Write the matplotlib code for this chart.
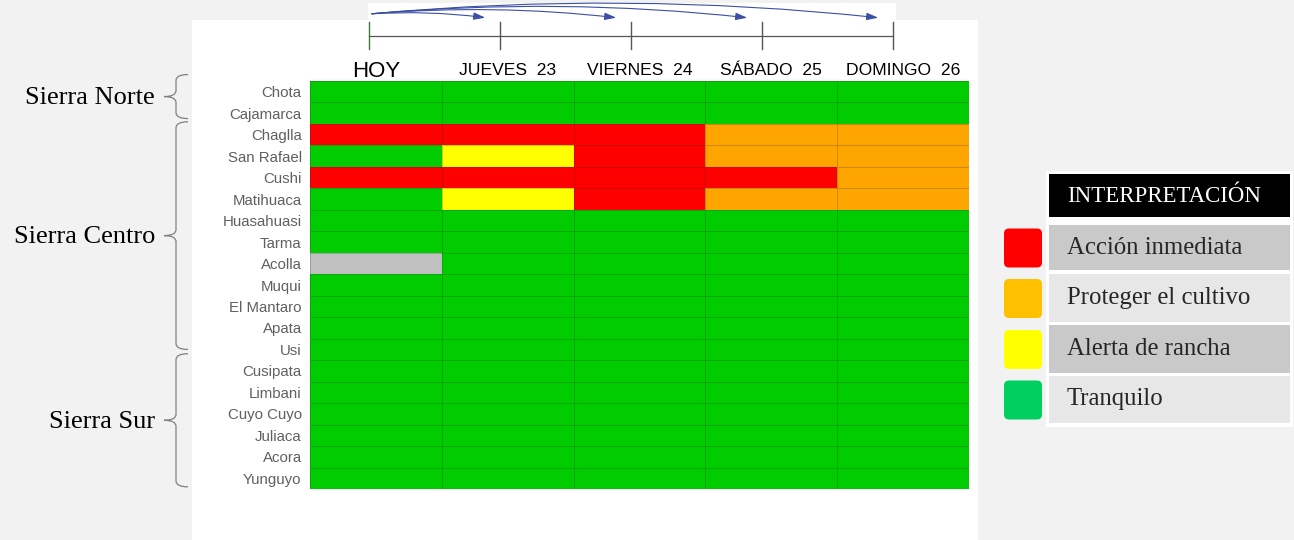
import numpy as np
import matplotlib
matplotlib.use("Agg")
import matplotlib.pyplot as plt
import matplotlib.transforms as mtrans
from matplotlib.colors import ListedColormap, BoundaryNorm
from matplotlib.patches import Rectangle, FancyBboxPatch, FancyArrowPatch, PathPatch
from matplotlib.path import Path

# datos
localidades = ['Chota', 'Cajamarca', 'Chaglla', 'San Rafael', 'Cushi', 'Matihuaca',
               'Huasahuasi', 'Tarma', 'Acolla', 'Muqui', 'El Mantaro', 'Apata', 'Usi',
               'Cusipata', 'Limbani', 'Cuyo Cuyo', 'Juliaca', 'Acora', 'Yunguyo']
dias = ['HOY', 'JUEVES  23', 'VIERNES  24', 'SÁBADO  25', 'DOMINGO  26']

# -1 sin dato, 0 tranquilo, 1 alerta de rancha, 2 proteger, 3 accion inmediata
hoy     = [0, 0, 3, 0, 3, 0, 0, 0, -1, 0, 0, 0, 0, 0, 0, 0, 0, 0, 0]
jueves  = [0, 0, 3, 1, 3, 1, 0, 0, 0, 0, 0, 0, 0, 0, 0, 0, 0, 0, 0]
viernes = [0, 0, 3, 3, 3, 3, 0, 0, 0, 0, 0, 0, 0, 0, 0, 0, 0, 0, 0]
sabado  = [0, 0, 2, 2, 3, 2, 0, 0, 0, 0, 0, 0, 0, 0, 0, 0, 0, 0, 0]
domingo = [0, 0, 2, 2, 2, 2, 0, 0, 0, 0, 0, 0, 0, 0, 0, 0, 0, 0, 0]

grupos = ['Sierra Norte', 'Sierra Centro', 'Sierra Sur']
grupos_ini = [-0.3, 1.9, 12.7]
grupos_fin = [1.75, 12.5, 18.9]

leyenda = ['Acción inmediata', 'Proteger el cultivo', 'Alerta de rancha', 'Tranquilo']
leyenda_col = ['#ff0000', '#ffc000', '#ffff00', '#00d060']

###############################################################################

W, H = 1294, 540
fig = plt.figure(figsize=(W / 100, H / 100), dpi=100, facecolor='#f2f2f2')

# fondo y decoraciones en pixeles
bg = fig.add_axes([0, 0, 1, 1])
bg.set_xlim(0, W)
bg.set_ylim(H, 0)
bg.axis('off')
bg.add_patch(Rectangle((192, 20), 786, 530, color='white', lw=0))
bg.add_patch(Rectangle((368, 3), 528, 20, color='white', lw=0))

# linea de tiempo
x0, y_top, y_bot = 310, 81, 489
row_h = (y_bot - y_top) / len(localidades)
ticks_x = [369, 500, 631, 762, 893]
bg.plot([ticks_x[0], ticks_x[-1]], [36, 36], color='#555555', lw=0.9)
for i, tx in enumerate(ticks_x):
    bg.plot([tx, tx], [22, 49], color='#3a7a3a' if i == 0 else '#555555', lw=1.0)
for tx in ticks_x[1:]:
    arr = FancyArrowPatch((369, 14), (tx - 12, 18), connectionstyle="arc3,rad=-0.05",
                          arrowstyle="-|>,head_length=7,head_width=2.2",
                          color='#3b4fa5', lw=0.8)
    bg.add_patch(arr)

# llaves
def llave(ax, y1, y2, xv=176, xe=188, xt=164, r=6):
    ym = (y1 + y2) / 2
    verts = [(xe, y1), (xv, y1), (xv, y1 + r),
             (xv, ym - r), (xv, ym), (xt, ym),
             (xv, ym), (xv, ym + r),
             (xv, y2 - r), (xv, y2), (xe, y2)]
    codes = [Path.MOVETO, Path.CURVE3, Path.CURVE3,
             Path.LINETO, Path.CURVE3, Path.CURVE3,
             Path.CURVE3, Path.CURVE3,
             Path.LINETO, Path.CURVE3, Path.CURVE3]
    ax.add_patch(PathPatch(Path(verts, codes), fill=False, ec='#7f7f7f', lw=0.9))
    return ym

for g, a, b in zip(grupos, grupos_ini, grupos_fin):
    ym = llave(bg, y_top + a * row_h, y_top + b * row_h)
    bg.text(155, ym + 1.5, g, ha='right', va='center', fontsize=19,
            family='Liberation Serif', color='black')

# leyenda
bg.add_patch(Rectangle((1046, 171), 247, 256, color='white', lw=0))
bg.add_patch(Rectangle((1049, 174), 241, 43, color='black', lw=0))
bg.text(1067, 197, 'INTERPRETACIÓN', ha='left', va='center', fontsize=16.5,
        family='Liberation Serif', color='white')
filas_y = [(225, 270), (274, 322), (325, 373), (376, 423)]
fondos = ['#c9c9c9', '#e7e7e7', '#c9c9c9', '#e7e7e7']
for lab, c, (ya, yb), f in zip(leyenda, leyenda_col, filas_y, fondos):
    bg.add_patch(Rectangle((1049, ya), 241, yb - ya, color=f, lw=0))
    bg.text(1067, (ya + yb) / 2, lab, ha='left', va='center', fontsize=17.8,
            family='Liberation Serif', color='#262626')
    bg.add_patch(FancyBboxPatch((1004, (ya + yb) / 2 - 19), 38, 39,
                                boxstyle="round,pad=0,rounding_size=5",
                                fc=c, ec='none'))

# mapa de calor
estado = np.array([hoy, jueves, viernes, sabado, domingo]).T
ax = fig.add_axes([x0 / W, 1 - y_bot / H, (969 - 310) / W, (y_bot - y_top) / H])
cmap = ListedColormap(['#c0c0c0', '#00cc00', '#ffff00', '#ffa500', '#ff0000'])
norm = BoundaryNorm([-1.5, -0.5, 0.5, 1.5, 2.5, 3.5], cmap.N)
ax.pcolormesh(np.arange(6), np.arange(len(localidades) + 1), estado, cmap=cmap, norm=norm,
              edgecolors=(0.2, 0.2, 0.2, 0.25), linewidth=0.6)
ax.set_xlim(0, 5)
ax.set_ylim(len(localidades), 0)
ax.set_yticks(np.arange(len(localidades)) + 0.5)
ax.set_yticklabels(localidades, fontsize=10.8, family='Liberation Sans', color='#606060')
ax.xaxis.tick_top()
ax.set_xticks(np.arange(5) + 0.5)
ax.set_xticklabels(dias, fontsize=12.6, family='Liberation Sans', color='black')
ax.tick_params(length=0, pad=2)
ax.tick_params(axis='y', pad=6)
t0 = ax.get_xticklabels()[0]
t0.set_fontsize(16)
t0.set_transform(t0.get_transform() + mtrans.ScaledTranslation(0, -3 / 72, fig.dpi_scale_trans))
for s in ax.spines.values():
    s.set_visible(False)

plt.savefig("out.png", dpi=100, facecolor=fig.get_facecolor())
